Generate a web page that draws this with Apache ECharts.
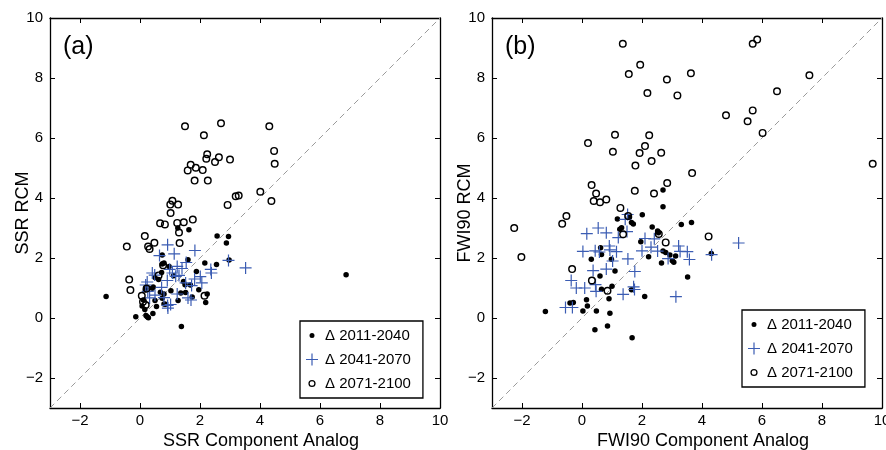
<!DOCTYPE html>
<html><head><meta charset="utf-8">
<script src="https://cdn.jsdelivr.net/npm/echarts@6/dist/echarts.min.js"></script>
<style>html,body{margin:0;padding:0;background:#fff}#c{width:886px;height:450px}</style>
</head><body><div id="c"></div>
<script>
const seriesNames = ['\u0394 2011-2040', '\u0394 2041-2070', '\u0394 2071-2100'];
const tickValues = [-2, 0, 2, 4, 6, 8, 10];
const axisRange = [-3, 10];
const panelLabels = ['(a)', '(b)'];
const xNames = ['SSR Component Analog', 'FWI90 Component Analog'];
const yNames = ['SSR RCM', 'FWI90 RCM'];

// Panel (a): SSR
const ssr2011 = [[-1.13,0.72],[6.87,1.44],[1.38,-0.28],[-0.14,0.04],[0.28,0.01],[0.2,0.08],[0.43,0.15],[0.16,0.28],[0.07,0.4],[0.11,0.6],[1.26,3.0],[1.63,2.94],[2.57,2.73],[2.95,2.72],[2.88,2.5],[2.97,1.93],[2.55,1.78],[2.16,1.83],[1.6,1.94],[0.74,2.1],[0.74,1.8],[0.8,1.83],[0.97,1.72],[0.72,1.52],[0.5,1.35],[0.62,1.28],[0.44,1.03],[0.2,0.98],[0.68,0.86],[0.8,0.8],[0.5,0.58],[0.8,0.47],[1.03,0.91],[1.36,0.83],[1.52,0.85],[1.74,0.7],[1.27,0.58],[1.5,1.11],[1.45,1.22],[1.88,1.55],[1.96,0.94],[2.24,0.8],[2.19,0.52],[1.12,1.41],[0.55,0.38],[0.85,0.46],[0.74,0.66],[0.18,0.93],[0.41,0.99],[1.68,1.1],[0.24,0.04]];
const ssr2041 = [[0.92,2.44],[1.14,2.14],[1.83,2.25],[0.65,2.08],[1.54,1.85],[1.24,1.72],[3.52,1.67],[2.95,1.92],[2.36,1.62],[2.38,1.5],[2.01,1.38],[0.41,1.5],[0.49,1.43],[1.08,1.5],[1.19,1.39],[0.91,1.25],[0.99,1.62],[0.24,1.2],[0.19,1.1],[0.72,1.02],[1.52,1.17],[1.72,1.08],[1.82,1.3],[2.06,1.17],[0.26,0.89],[0.5,0.76],[0.32,0.67],[0.8,0.68],[1.24,0.8],[1.6,0.67],[1.7,0.6],[0.92,0.42],[1.02,0.45],[0.93,0.33],[1.3,1.42],[1.4,1.65]];
const ssr2071 = [[1.5,6.39],[2.7,6.49],[4.31,6.39],[2.13,6.09],[4.47,5.57],[4.49,5.14],[2.24,5.46],[2.21,5.31],[2.63,5.36],[2.5,5.2],[3.0,5.28],[1.69,5.11],[1.59,4.92],[1.86,5.01],[2.09,4.93],[1.82,4.58],[2.26,4.58],[4.01,4.21],[3.19,4.06],[3.29,4.08],[4.38,3.9],[2.92,3.77],[1.08,3.91],[1.01,3.78],[1.27,3.78],[1.02,3.5],[0.67,3.16],[0.83,3.12],[1.24,3.17],[1.46,3.19],[1.76,3.28],[1.3,2.85],[0.16,2.73],[0.48,2.51],[1.32,2.5],[-0.44,2.38],[0.27,2.38],[0.32,2.3],[-0.36,1.28],[-0.32,0.93],[0.06,0.74],[0.1,0.54],[0.19,0.43],[2.15,0.74],[0.77,1.76],[0.22,0.98],[0.62,1.42]];

// Panel (b): FWI90
const fwi2011 = [[-1.22,0.22],[-0.4,0.5],[-0.29,0.52],[0.03,0.23],[0.15,0.61],[0.18,0.4],[0.48,0.23],[0.43,-0.39],[0.85,-0.27],[0.93,0.16],[0.9,0.64],[1.67,-0.66],[2.09,0.72],[1.65,0.94],[1.0,1.06],[0.65,0.96],[1.1,1.57],[0.6,1.4],[0.31,1.96],[0.62,2.34],[0.65,2.12],[0.98,1.96],[1.18,3.3],[1.26,2.96],[1.32,3.01],[1.58,3.36],[1.65,3.18],[1.71,3.13],[2.01,3.44],[2.34,3.03],[2.52,2.9],[2.55,2.84],[2.7,4.27],[2.7,3.71],[3.31,3.12],[3.65,3.18],[1.96,2.54],[2.22,2.04],[2.65,1.83],[2.7,2.23],[2.79,2.18],[2.93,2.1],[3.01,1.91],[3.06,1.86],[3.12,2.07],[3.52,1.37],[4.31,2.15]];
const fwi2041 = [[0.16,2.81],[0.54,3.0],[0.81,2.84],[1.52,3.45],[1.44,3.29],[1.5,2.88],[1.21,2.68],[0.03,2.22],[0.44,2.24],[0.58,2.2],[0.91,2.4],[0.93,2.27],[1.15,2.21],[1.02,1.9],[1.53,1.97],[2.1,2.65],[2.41,2.64],[2.0,2.24],[2.3,2.36],[2.52,2.23],[2.87,1.98],[3.22,2.4],[3.27,2.22],[3.51,2.21],[3.58,1.95],[4.32,2.11],[5.22,2.5],[3.13,0.71],[0.37,1.58],[0.81,1.63],[1.76,1.55],[-0.36,1.25],[-0.19,1.0],[0.09,1.0],[0.45,1.11],[0.47,0.89],[1.37,0.79],[1.72,1.04],[1.75,0.95],[-0.55,0.35],[-0.32,0.35]];
const fwi2071 = [[1.36,9.14],[5.69,9.14],[5.84,9.28],[1.94,8.44],[1.56,8.13],[3.63,8.16],[2.83,7.95],[7.58,8.09],[2.18,7.5],[3.18,7.42],[6.5,7.56],[4.8,6.76],[5.69,6.92],[5.52,6.56],[6.02,6.17],[1.1,6.11],[2.24,6.09],[0.2,5.83],[2.1,5.73],[1.03,5.54],[1.92,5.5],[2.64,5.51],[2.32,5.23],[1.78,5.08],[3.67,4.83],[9.69,5.14],[0.32,4.43],[0.47,4.15],[1.76,4.24],[2.84,4.5],[2.4,4.15],[0.39,3.9],[0.6,3.86],[0.81,3.95],[1.28,3.67],[-2.26,3.0],[-2.02,2.03],[-0.66,3.14],[-0.52,3.4],[1.37,2.79],[1.54,3.4],[2.56,2.8],[2.79,2.52],[4.22,2.72],[-0.33,1.63],[0.33,1.25],[0.85,0.91]];

const panels = [
  [ssr2011, ssr2041, ssr2071],
  [fwi2011, fwi2041, fwi2071]
];

const FONT = 'Liberation Sans, Arial, Helvetica, sans-serif';
const BLUE = '#3b5cb3';
const colors = ['#000', BLUE, '#000'];
const PLUS = 'path://M0,5.4h12v1.2h-12zM5.4,0h1.2v12h-1.2z';
const RING = 'path://M0,3.6a3.6,3.6 0 1,0 7.2,0a3.6,3.6 0 1,0 -7.2,0zM1.3,3.6a2.3,2.3 0 1,1 4.6,0a2.3,2.3 0 1,1 -4.6,0z';
const symbols = ['circle', PLUS, RING];
const sizes = [5.5, 12, 8];
const BOX = 'M0,0L0.001,0M14,14L13.999,14';
const legendIcons = [
  'path://' + BOX + 'M4.5,7a2.5,2.5 0 1,0 5,0a2.5,2.5 0 1,0 -5,0z',
  'path://' + BOX + 'M1,6.4h12v1.2h-12zM6.4,1h1.2v12h-1.2z',
  'path://' + BOX + 'M3.4,7a3.6,3.6 0 1,0 7.2,0a3.6,3.6 0 1,0 -7.2,0zM4.7,7a2.3,2.3 0 1,1 4.6,0a2.3,2.3 0 1,1 -4.6,0z'
];

const gridLefts = [50, 492];
const legendPos = [[300, 321], [742, 310]];
const fmt = v => String(v).replace('-', '\u2212');

const grid = [], xAxis = [], yAxis = [], series = [], legend = [], title = [];
panels.forEach((sets, p) => {
  grid.push({left: gridLefts[p], top: 18, width: 390, height: 390, containLabel: false, outerBoundsMode: 'none'});
  const tick = {show: true, inside: true, length: 5, customValues: tickValues, lineStyle: {color: '#000', width: 1}};
  const line = {show: true, onZero: false, lineStyle: {color: '#000', width: 1.3}};
  const label = {show: true, customValues: tickValues, formatter: fmt, color: '#000', fontSize: 15, fontFamily: FONT};
  xAxis.push({type: 'value', gridIndex: p, position: 'bottom', min: axisRange[0], max: axisRange[1],
    axisLine: line, axisTick: tick, axisLabel: Object.assign({margin: 5}, label), splitLine: {show: false},
    name: xNames[p], nameLocation: 'middle', nameGap: 24, nameMoveOverlap: false,
    nameTextStyle: {fontSize: 18, color: '#000', fontFamily: FONT, padding: [0, 0, 0, 32]}});
  xAxis.push({type: 'value', gridIndex: p, position: 'top', min: axisRange[0], max: axisRange[1],
    axisLine: line, axisTick: tick, axisLabel: {show: false}, splitLine: {show: false}});
  yAxis.push({type: 'value', gridIndex: p, position: 'left', min: axisRange[0], max: axisRange[1],
    axisLine: line, axisTick: tick, axisLabel: Object.assign({margin: 7}, label), splitLine: {show: false},
    name: yNames[p], nameLocation: 'middle', nameGap: 18, nameMoveOverlap: false,
    nameTextStyle: {fontSize: 18, color: '#000', fontFamily: FONT}});
  yAxis.push({type: 'value', gridIndex: p, position: 'right', min: axisRange[0], max: axisRange[1],
    axisLine: line, axisTick: tick, axisLabel: {show: false}, splitLine: {show: false}});

  series.push({type: 'line', name: 'diag' + p, xAxisIndex: 2 * p, yAxisIndex: 2 * p,
    data: [[axisRange[0], axisRange[0]], [axisRange[1], axisRange[1]]], symbol: 'none', silent: true,
    lineStyle: {color: '#9a9a9a', width: 1, type: [6, 4]}, z: 1});
  sets.forEach((d, i) => {
    series.push({type: 'scatter', name: seriesNames[i], xAxisIndex: 2 * p, yAxisIndex: 2 * p,
      data: d, symbol: symbols[i], symbolSize: sizes[i],
      itemStyle: {color: colors[i], opacity: 1, borderWidth: 0}, z: 2 + i});
  });

  legend.push({orient: 'vertical', left: legendPos[p][0], top: legendPos[p][1],
    padding: [7, 12, 7, 5], itemGap: 9, itemWidth: 16, itemHeight: 14,
    borderColor: '#000', borderWidth: 1.3, backgroundColor: '#fff', selectedMode: false,
    textStyle: {fontSize: 15, color: '#000', fontFamily: FONT},
    data: seriesNames.map((n, i) => ({name: n, icon: legendIcons[i], itemStyle: {color: colors[i], borderWidth: 0}}))});

  title.push({text: panelLabels[p], left: gridLefts[p] + 8, top: 30,
    textStyle: {fontSize: 25, fontWeight: 'normal', color: '#000', fontFamily: FONT}});
});

const chart = echarts.init(document.getElementById('c'), null, {renderer: 'canvas'});
chart.setOption({animation: false, backgroundColor: '#fff', title, grid, xAxis, yAxis, legend, series});
</script>
</body></html>
